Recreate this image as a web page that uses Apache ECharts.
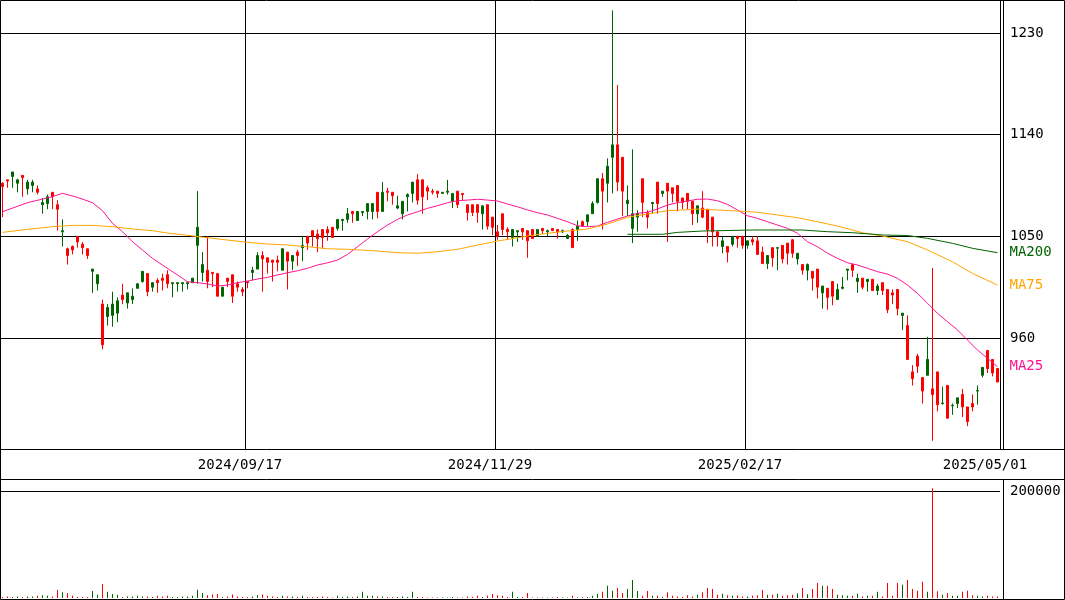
<!DOCTYPE html>
<html><head><meta charset="utf-8">
<script src="https://cdn.jsdelivr.net/npm/echarts@6/dist/echarts.min.js"></script>
<style>html,body{margin:0;padding:0;background:#fff}#c{width:1065px;height:600px}</style>
</head><body><div id="c"></div>
<script>
// ---- data (one entry per trading day, 200 days) ----
const opens = [1097,1100,1103,1097,1104,1092,1095,1092,1078,1079,1089,1078,1054,1039,1041,1050,1043,1039,1019,1008,
990,979,980,982,998,991,994,1004,1010,1017,1005,1011,1013,1016,1008,1008,1008,1008,1009,1042,
1018,1020,1018,1017,997,1013,1016,1008,1003,1010,1018,1021,1033,1031,1029,1029,1020,1036,1028,1036,
1040,1050,1055,1052,1056,1056,1058,1057,1064,1065,1072,1064,1071,1072,1072,1089,1072,1090,1089,1075,
1070,1085,1088,1100,1100,1093,1090,1090,1088,1089,1081,1090,1088,1078,1078,1078,1070,1078,1067,1054,
1070,1056,1049,1054,1057,1055,1056,1050,1057,1054,1057,1056,1054,1048,1056,1056,1063,1063,1070,1080,
1101,1097,1120,1131,1120,1079,1057,1067,1101,1071,1079,1098,1088,1097,1093,1095,1084,1088,1081,1070,
1075,1074,1067,1054,1041,1041,1043,1050,1050,1042,1047,1046,1036,1026,1040,1039.5,1042,1044,1047,1030,
1025,1020,1019,1021,1000,1004,1010,994,1004,1020,1025,1010,1013,1010,1012,1002,1009,1003,1000,1003,
980,971,930,944,925,927,915,930,902,918,900,902,910,899,902,913,927,949,941,933];
const closes = [1094,1099,1107,1100,1102,1098,1098,1089,1080,1085,1085,1074,1055,1033,1038,1045,1040,1033,1021,1016,
954,987,990,993,994,1000,997,1008,1019,1001,1009,1009,1011,1008,1009,1009,1009,1009,1013,1058,
1025,1010,1017,997,1005,1010,997,1005,1001,1009,1020,1033,1030,1027,1027,1027,1039,1028,1033,1033,
1042,1044,1050,1048,1049,1053,1049,1065,1065,1070,1070,1072,1072,1079,1079,1072,1089,1089,1086,1077,
1081,1087,1098,1082,1085,1090,1089,1088,1089,1090,1088,1078,1087,1071,1071,1071,1077,1059,1058,1050,
1056,1054,1056,1055,1054,1046,1048,1056,1055,1055,1055,1054,1055,1051,1040,1059,1059,1069,1079,1101,
1090,1112,1131,1098,1090,1082,1070,1070,1080,1067,1080,1079,1090,1090,1088,1081,1080,1081,1070,1077,
1067,1056,1054,1050,1046,1036,1050,1048,1042,1046,1045,1034,1026,1033,1031,1040,1030,1035,1035,1035,
1020,1025,1013,1005,1006,996,997,1003,1005,1021,1020,1013,1005,1012,1002,1006,1002,985,998,986,
982,941,924,935,913,941,910,901,902.5,889,900.5,907,899,886,899,913.5,934,933,929,921];
const lows = [1067,1093,1093,1089,1085,1087,1089,1087,1070,1074,1074,1055,1041,1025,1034,1040,1034,1030,1000,1002,
950,971,970,974,990,986,990,1004,1009,997,1001,1000,1002,1004,996,1001,1001,1003,1009,1008,
1010,1004,1005,997,997,1005,991,1001,997,1004,1011,1021,1001,1017,1010,1019,1020,1003,1020,1024,
1028,1038,1041,1036,1039,1046,1049,1055,1055,1062,1062,1064,1068,1065,1065,1066,1072,1081,1078,1074,
1065,1072,1080,1078,1070,1082,1087,1084,1088,1087,1075,1075,1082,1064,1068,1062,1056,1056,1051,1047,
1051,1047,1041,1045,1047,1031,1048,1050,1052,1050,1055,1048,1053,1048,1040,1046,1059,1059,1070,1079,
1056,1080,1088,1090,1068,1068,1044,1054,1067,1057,1070,1070,1085,1045,1080,1072,1074,1074,1060,1062,
1066,1044,1041,1041,1035,1027,1041,1040,1039,1039,1042,1034,1026,1021,1023,1020,1026,1025,1031,1025,
1016,1011,1002,995,986,985,989,994,1003,1011,1014,1000,1003,1001,1002,998,998,982,990,980,
967,941,918,929,902,927,869,895,901,889,892,898,890,882,895,901,925,929,926,921];
const highs = [1098,1100,1107,1101,1104,1100,1100,1095,1084,1087,1089,1082,1065,1040,1042,1050,1045,1039,1021,1016,
994,990,1001,996,1008,1000,1004,1008,1019,1017,1009,1013,1017,1020,1009,1009,1009,1010,1013,1090,
1036,1050,1018,1017,1005,1013,1016,1010,1005,1010,1023,1036,1037,1031,1029,1033,1039,1036,1033,1038,
1050,1050,1055,1056,1056,1059,1058,1065,1065,1075,1072,1072,1072,1079,1079,1089,1098,1093,1089,1086,
1081,1088,1098,1105,1100,1095,1092,1090,1089,1100,1088,1090,1088,1078,1078,1078,1077,1078,1067,1060,
1070,1058,1056,1055,1057,1055,1056,1056,1057,1056,1057,1056,1056,1052,1057,1064,1064,1069,1081,1101,
1106,1119,1250,1184,1120,1095,1127,1073,1101,1073,1080,1098,1090,1097,1093,1095,1084,1088,1081,1077,
1090,1074,1067,1054,1050,1041,1050,1050,1050,1046,1050,1050,1041,1033,1040,1040,1042,1044,1047,1035,
1025,1026,1019,1021,1006,1004,1010,1008,1014,1021,1025,1017,1013,1012,1012,1008,1009,1003,1003,1003,
982,980,936,946,925,961,1022,930,917,918,902,907,915,899,910,918,934,949,941,933];
const volumes = [2000,3000,2000,3000,2000,3000,3000,4000,5000,4000,3000,15000,10600,9300,4000,2000,2000,2000,13000,6000,
26000,11800,7500,6200,2000,3000,3000,4000,3000,3000,2000,4000,3000,4000,2000,2000,3000,3000,4000,15500,
9300,5000,6500,7500,2000,3000,6500,3000,2000,2000,3000,5000,6500,4000,3000,2000,4000,3000,3000,2000,
4000,2000,2000,2000,3000,2000,1000,4000,2000,3000,2000,3000,11800,4000,4000,3000,3000,2000,2000,2000,
3000,2000,11800,2000,2000,1000,1000,1000,1000,1000,2000,1000,1000,3000,2000,4000,2000,4000,7500,5000,
4000,2000,11800,2000,2000,9300,1000,1000,1000,1000,1000,2000,1000,1000,4000,1000,2000,2000,4000,8000,
11800,23000,13700,19300,9300,16800,33600,13000,4000,13000,4000,4000,2000,10600,4000,3000,2000,5000,3000,6000,
10600,18700,16800,6000,8000,5000,4000,5000,3000,3000,4000,5000,15000,6000,6000,8000,4000,5000,6000,9000,
18700,7000,16800,28000,23000,23000,16800,6000,5000,4000,4000,8000,3000,4000,4000,11800,3000,28000,4000,28000,
24900,33600,16800,13700,30500,11800,205000,12500,6000,9300,4000,4000,11800,13700,5000,4000,3000,4000,3000,3000];
// moving averages: [day index, value]
const ma25Idx = [0,5,10,12,15,18,20,22,24,26,28,30,32,35,37,39,41,43,45,47,49,51,53,55,57,59,61,63,65,67,69,71,73,75,77,79,81,83,85,87,89,91,93,95,97,99,101,103,105,107,109,111,113,115,117,119,121,123,125,127,129,131,133,135,137,139,141,143,145,147,149,151,153,155,157,159,161,163,165,167,169,171,173,175,177,179,181,183,185,187,189,191,193,195,197,199];
const ma25Val = [1071.8,1079.8,1085.1,1088.1,1084.5,1079.8,1072.7,1061.5,1054.1,1045.2,1037.9,1030.5,1024.6,1015.8,1009.8,1009,1007.8,1006,1006.9,1009,1010.4,1012.2,1013.7,1015.8,1017.8,1019.5,1021.7,1024.6,1026.6,1029,1034,1040.8,1047.6,1054.1,1060,1065,1068.9,1071.8,1074.8,1077.1,1079.8,1081.5,1082.1,1082.8,1082.1,1081.3,1078.6,1076.2,1073.3,1070.9,1068.9,1065.9,1062.9,1059.4,1058.5,1059.1,1062.4,1065.3,1068,1070.4,1071.2,1074.2,1077.7,1079.8,1081.3,1082.8,1083,1081.5,1078.3,1073.3,1068.2,1065.9,1062.9,1060,1057.1,1052.7,1045.2,1040.8,1035,1030.5,1026.6,1024.6,1021.7,1018.7,1016.6,1012.8,1006.9,999.5,990.7,981.8,974.4,967.1,958.2,949.3,942,934.6];
const ma75Idx = [0,5,10,14,18,22,26,30,33,37,41,45,49,53,57,61,65,69,75,79,83,87,91,95,99,101,105,109,113,117,121,125,129,133,136,139,143,147,151,155,159,163,167,172,176,181,185,190,194,199];
const ma75Val = [1053.5,1056.2,1058.5,1059.7,1059.7,1058.5,1056.5,1055,1052.9,1050.9,1048.8,1046.7,1044.7,1043.2,1042.3,1040.8,1039,1038.5,1037,1035.5,1035,1036.4,1038.5,1042.3,1045.8,1047.3,1050.3,1052.7,1054.7,1056.5,1060.9,1066.8,1069.8,1072.7,1073.3,1074.2,1073.3,1072.4,1071.3,1068.9,1066.5,1062.9,1059.1,1053.2,1050.3,1045.2,1037.9,1027.5,1017.2,1006.9];
const ma200Idx = [125,132,135,140,150,160,165,170,176,181,185,190,194,199];
const ma200Val = [1051.8,1051.8,1053.5,1054.7,1055.6,1055.6,1054.1,1053.2,1051.2,1050.7,1048.2,1043.8,1039.4,1035.5];
const priceTicks = [960,1050,1140,1230];
const volumeTicks = [200000];
const dateLabels = ['2024/09/17','2024/11/29','2025/02/17','2025/05/01'];
const dateLabelIdx = [48,98,148,197];
const dateLineIdx = [49,99,149];

// ---- build ----
const UP = '#006400', DOWN = '#ff0000', FONT = 'DejaVu Sans Mono';
const days = opens.map((_, i) => String(i));
const candles = opens.map((o, i) => [o, closes[i], lows[i], highs[i]]);
const volData = volumes.map((v, i) => ({value: v, itemStyle: {color: closes[i] >= opens[i] ? UP : DOWN}}));
const pairs = (ix, vs) => ix.map((d, k) => [d, vs[k]]);
const maSeries = (name, ix, vs, color) => ({
  name, type: 'line', xAxisIndex: 0, yAxisIndex: 0, data: pairs(ix, vs), symbol: 'none', z: 5,
  lineStyle: {width: 1, color}, itemStyle: {color}, animation: false,
  endLabel: {show: true, formatter: name, color, fontFamily: FONT, fontSize: 14, distance: 12}
});
const plain = (v) => String(v);

const chart = echarts.init(document.getElementById('c'), null, {renderer: 'canvas'});
chart.setOption({
  animation: false,
  backgroundColor: '#fff',
  grid: [
    {left: 0, top: 0, width: 1000, height: 449},
    {left: 0, top: 480, width: 1000, height: 118}
  ],
  xAxis: [
    {type: 'category', gridIndex: 0, data: days, boundaryGap: true,
     axisLine: {show: false}, axisTick: {show: false},
     axisLabel: {interval: (i) => dateLabelIdx.includes(i), formatter: (v, i) => dateLabels[dateLabelIdx.indexOf(i)] || '',
                 fontFamily: FONT, fontSize: 14, color: '#000', margin: 9, padding: [0, 5, 0, 0]},
     splitLine: {show: true, interval: (i) => dateLineIdx.includes(i), lineStyle: {color: '#000', width: 1}}},
    {type: 'category', gridIndex: 1, data: days, boundaryGap: true,
     axisLine: {show: false}, axisTick: {show: false}, axisLabel: {show: false}, splitLine: {show: false}}
  ],
  yAxis: [
    {type: 'value', gridIndex: 0, position: 'right', min: 861.74, max: 1259.21,
     axisLine: {show: false}, axisTick: {show: false, customValues: priceTicks},
     axisLabel: {customValues: priceTicks, formatter: plain, fontFamily: FONT, fontSize: 14, color: '#000', margin: 10},
     splitLine: {show: true, lineStyle: {color: '#000', width: 1}}},
    {type: 'value', gridIndex: 1, position: 'right', min: 0, max: 220561,
     axisLine: {show: false}, axisTick: {show: false, customValues: volumeTicks},
     axisLabel: {customValues: volumeTicks, formatter: plain, fontFamily: FONT, fontSize: 14, color: '#000', margin: 10},
     splitLine: {show: true, lineStyle: {color: '#000', width: 1}}}
  ],
  series: [
    {type: 'candlestick', xAxisIndex: 0, yAxisIndex: 0, data: candles, barWidth: 3, z: 3,
     itemStyle: {color: UP, color0: DOWN, borderColor: UP, borderColor0: DOWN, borderWidth: 1}},
    maSeries('MA25', ma25Idx, ma25Val, '#ff1493'),
    maSeries('MA75', ma75Idx, ma75Val, '#ffa500'),
    maSeries('MA200', ma200Idx, ma200Val, '#006400'),
    {type: 'bar', xAxisIndex: 1, yAxisIndex: 1, data: volData, barWidth: 1}
  ],
  graphic: [
    {type: 'rect', shape: {x: 0.5, y: 0.5, width: 1064, height: 599}, style: {fill: null, stroke: '#000', lineWidth: 1}, z: 100},
    {type: 'line', shape: {x1: 0, y1: 449.5, x2: 1065, y2: 449.5}, style: {stroke: '#000', lineWidth: 1}, z: 100},
    {type: 'line', shape: {x1: 0, y1: 479.5, x2: 1065, y2: 479.5}, style: {stroke: '#000', lineWidth: 1}, z: 100},
    {type: 'line', shape: {x1: 1003.5, y1: 0, x2: 1003.5, y2: 449.5}, style: {stroke: '#000', lineWidth: 1}, z: 100},
    {type: 'line', shape: {x1: 1003.5, y1: 479.5, x2: 1003.5, y2: 600}, style: {stroke: '#000', lineWidth: 1}, z: 100}
  ]
});
</script></body></html>
